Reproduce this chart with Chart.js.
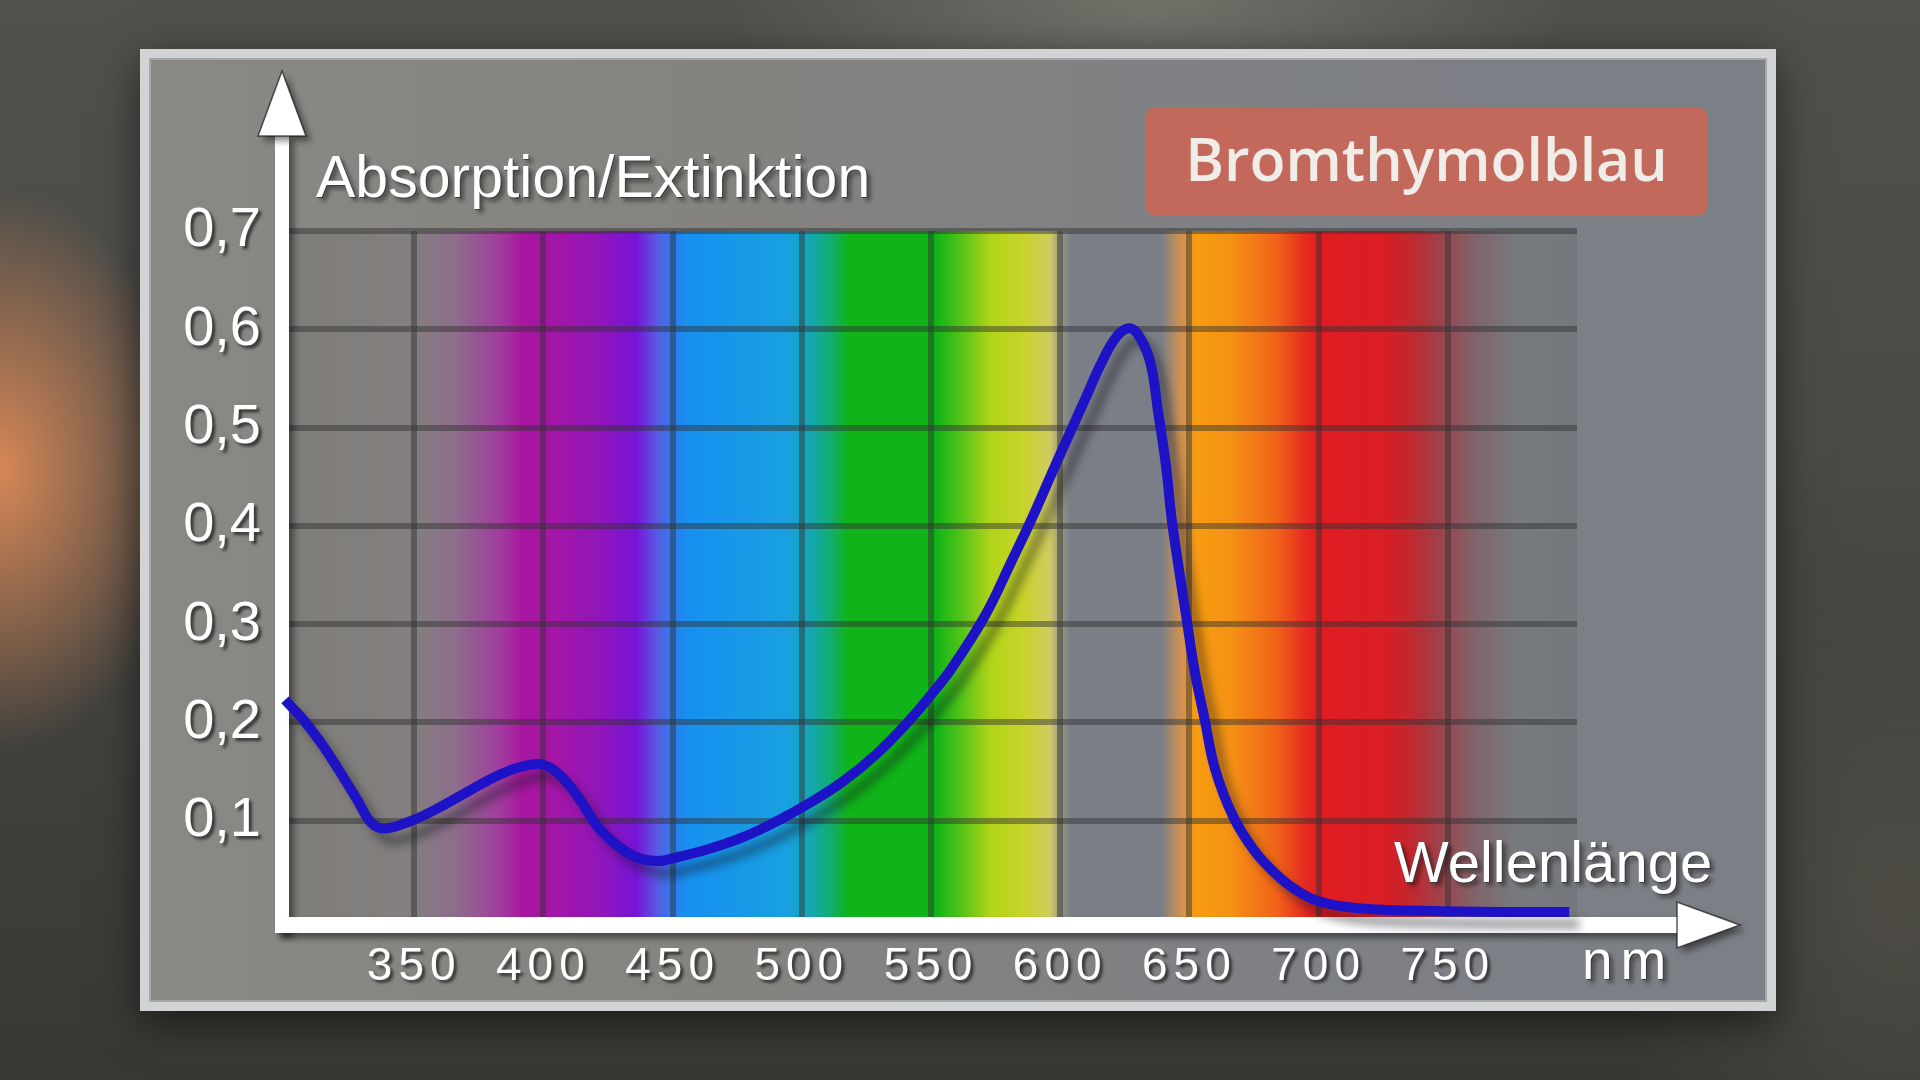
<!DOCTYPE html>
<html lang="de">
<head>
<meta charset="utf-8">
<title>Bromthymolblau – Absorptionsspektrum</title>
<script src="https://cdn.jsdelivr.net/npm/chart.js@4.4.1/dist/chart.umd.min.js"></script>
<style>
  html, body { margin: 0; padding: 0; width: 1920px; height: 1080px; overflow: hidden; }
  body {
    position: relative;
    font-family: 'Liberation Sans', Arial, sans-serif;
    background:
      radial-gradient(ellipse 190px 280px at 0px 470px, rgba(222,138,88,0.95), rgba(222,138,88,0) 100%),
      radial-gradient(ellipse 420px 160px at 1150px 0px, rgba(122,122,114,0.8), rgba(122,122,114,0) 100%),
      radial-gradient(ellipse 300px 400px at 1900px 900px, rgba(80,78,70,0.8), rgba(80,78,70,0) 100%),
      linear-gradient(180deg, #51514c 0%, #4a4a46 40%, #3e3e3a 75%, #383834 100%);
  }
  #panel {
    position: absolute; left: 140px; top: 49px; width: 1636px; height: 962px;
    box-sizing: border-box;
    border: 9px solid #d2d3d4;
    background: linear-gradient(90deg, #8a8884 0%, #85837f 35%, #7e8085 70%, #7b7f86 100%);
    box-shadow: 0 12px 40px rgba(0,0,0,0.55), inset 0 0 0 2px #a5a7a9;
  }
  #chart { position: absolute; left: 0; top: 0; }
  .lbl {
    position: absolute; color: #fff; white-space: nowrap; line-height: 1;
    text-shadow: 1px 1px 0 #3a3a3a, 4px 4px 4px rgba(0,0,0,0.45);
  }
  #yTitle { left: 316px; top: 148px; font-size: 59px; }
  #xTitle { left: 1394px; top: 833px; font-size: 58px; }
  #unit { left: 1582px; top: 933px; font-size: 55px; letter-spacing: 8px; }
  #badge {
    position: absolute; left: 1146px; top: 108px; width: 561px; height: 107px;
    box-sizing: border-box; padding-bottom: 8px;
    background: #c2695b; border-radius: 8px;
    display: flex; align-items: center; justify-content: center;
    font-family: 'Open Sans', sans-serif; font-weight: 600; font-size: 59px; color: #f0ece8;
  }
</style>
</head>
<body>
<div id="panel"></div>
<canvas id="chart" width="1920" height="1080"></canvas>
<div class="lbl" id="yTitle">Absorption/Extinktion</div>
<div class="lbl" id="xTitle">Wellenlänge</div>
<div class="lbl" id="unit">nm</div>
<div id="badge">Bromthymolblau</div>

<script>
// Absorptionsspektrum von Bromthymolblau

const wavelengths = [300, 307, 314, 320, 328, 333, 338, 348, 358, 371, 384, 395, 401, 407, 414, 421, 429, 436, 444, 452,
                     465, 478, 490, 503, 516, 529, 542, 550, 558, 571, 581, 590, 597, 604, 610, 616, 622, 627, 631, 635,
                     638, 641, 643, 646, 649, 652, 656, 660, 667, 675, 683, 691, 700, 715, 747, 797];
const absorbance  = [0.223, 0.203, 0.179, 0.155, 0.121, 0.099, 0.092, 0.099, 0.111, 0.130, 0.148, 0.157, 0.156, 0.145, 0.122, 0.094, 0.074, 0.063, 0.059, 0.063,
                     0.072, 0.084, 0.099, 0.118, 0.140, 0.168, 0.203, 0.228, 0.255, 0.309, 0.363, 0.413, 0.455, 0.496, 0.531, 0.566, 0.593, 0.601, 0.591, 0.565,
                     0.514, 0.460, 0.410, 0.355, 0.304, 0.253, 0.202, 0.152, 0.104, 0.070, 0.047, 0.030, 0.018, 0.011, 0.008, 0.007];

const xTicks = [350, 400, 450, 500, 550, 600, 650, 700, 750];
const yTicks = [0.1, 0.2, 0.3, 0.4, 0.5, 0.6, 0.7];
const xRange = [300, 800];
const yRange = [0, 0.7];

// Farbverlauf des sichtbaren Spektrums hinter dem Raster (Wellenlänge, Farbe)
const spectrumStops = [
  [300, '#7f7d7a'], [350, '#827f7e'], [366, '#8d6d8c'], [384, '#a23a9f'], [392, '#a8169f'],
  [405, '#a316a8'], [422, '#9016ba'], [436, '#7714d8'], [444, '#5a5ae2'], [450, '#2b7ded'],
  [456, '#1690f0'], [494, '#19a0e0'], [503, '#15a6b5'], [511, '#12ad72'], [518, '#10b418'],
  [552, '#10b418'], [562, '#55c418'], [573, '#b2d418'], [586, '#c8d42a'], [596, '#d0cb62'],
  [600, '#9c9a7e'], [604, '#7a7e86'], [639, '#7a7e86'], [646, '#c99058'], [653, '#f89c10'],
  [666, '#f59115'], [684, '#f06219'], [695, '#e62a20'], [701, '#e01c22'], [726, '#d81e24'],
  [736, '#c02830'], [746, '#a04048'], [760, '#80636a'], [776, '#777a7e'], [800, '#74787d']
];

// Hintergrund: Spektrum im Diagrammbereich
const spectrumPlugin = {
  id: 'spectrum',
  beforeDraw(chart) {
    const { ctx, chartArea, scales } = chart;
    const x0 = scales.x.getPixelForValue(xRange[0]);
    const x1 = scales.x.getPixelForValue(xRange[1]);
    const g = ctx.createLinearGradient(x0, 0, x1, 0);
    for (const [nm, col] of spectrumStops) {
      g.addColorStop((nm - xRange[0]) / (xRange[1] - xRange[0]), col);
    }
    ctx.save();
    ctx.fillStyle = g;
    ctx.fillRect(x0, chartArea.top, x1 - x0, chartArea.bottom - chartArea.top);
    ctx.restore();
  }
};

// weiße Achsen mit Pfeilspitzen
const arrowPlugin = {
  id: 'arrows',
  beforeDatasetsDraw(chart) {
    const { ctx, chartArea } = chart;
    const L = chartArea.left, R = chartArea.right, T = chartArea.top, B = chartArea.bottom;
    const heads = [
      [[L - 3, T - 160], [L - 27, T - 95], [L + 21, T - 95]],
      [[R + 163, B + 6], [R + 100, B - 17], [R + 100, B + 29]]
    ];
    ctx.save();
    ctx.shadowColor = 'rgba(0,0,0,0.45)';
    ctx.shadowBlur = 6;
    ctx.shadowOffsetX = 5;
    ctx.shadowOffsetY = 5;
    ctx.fillStyle = '#ffffff';
    ctx.fillRect(L - 10, T - 96, 14, B + 14 - (T - 96));
    ctx.fillRect(L - 10, B - 2, R + 101 - (L - 10), 16);
    for (const h of heads) {
      ctx.beginPath();
      ctx.moveTo(h[0][0], h[0][1]);
      ctx.lineTo(h[1][0], h[1][1]);
      ctx.lineTo(h[2][0], h[2][1]);
      ctx.closePath();
      ctx.fill();
    }
    ctx.shadowColor = 'transparent';
    ctx.strokeStyle = 'rgba(20,20,20,0.7)';
    ctx.lineWidth = 1.5;
    for (const h of heads) {
      ctx.beginPath();
      ctx.moveTo(h[0][0], h[0][1]);
      ctx.lineTo(h[1][0], h[1][1]);
      ctx.lineTo(h[2][0], h[2][1]);
      ctx.closePath();
      ctx.stroke();
    }
    ctx.restore();
  }
};

// Schatten unter der Kurve
const lineShadowPlugin = {
  id: 'lineShadow',
  beforeDatasetDraw(chart) {
    const ctx = chart.ctx;
    ctx.save();
    ctx.shadowColor = 'rgba(20,20,30,0.4)';
    ctx.shadowBlur = 8;
    ctx.shadowOffsetX = 10;
    ctx.shadowOffsetY = 12;
  },
  afterDatasetDraw(chart) {
    chart.ctx.restore();
  }
};

// Beschriftungen mit Schatten, x-Achse gesperrt
const labelStylePlugin = {
  id: 'labelStyle',
  afterLayout(chart) {
    for (const s of Object.values(chart.scales)) {
      if (s._styled) continue;
      const orig = s.drawLabels.bind(s);
      s.drawLabels = (area) => {
        const ctx = chart.ctx;
        ctx.save();
        ctx.letterSpacing = s.axis === 'x' ? '6px' : '0px';
        ctx.shadowColor = 'rgba(0,0,0,0.6)';
        ctx.shadowBlur = 3;
        ctx.shadowOffsetX = 3;
        ctx.shadowOffsetY = 3;
        orig(area);
        ctx.restore();
      };
      s._styled = true;
    }
  }
};

const gridStyle = { color: 'rgba(50,50,50,0.48)', lineWidth: 6, drawTicks: false };

new Chart(document.getElementById('chart'), {
  type: 'line',
  data: {
    datasets: [{
      label: 'Bromthymolblau',
      data: wavelengths.map((x, i) => ({ x, y: absorbance[i] })),
      borderColor: '#1d12c6',
      borderWidth: 10,
      borderCapStyle: 'butt',
      borderJoinStyle: 'round',
      tension: 0.4,
      pointRadius: 0,
      fill: false,
      clip: 20
    }]
  },
  options: {
    responsive: false,
    animation: false,
    events: [],
    layout: { padding: { left: 0, top: 231, right: 343, bottom: 0 } },
    plugins: { legend: { display: false }, tooltip: { enabled: false } },
    scales: {
      x: {
        type: 'linear', min: xRange[0], max: xRange[1],
        afterBuildTicks: s => { s.ticks = xTicks.map(v => ({ value: v })); },
        afterFit: s => { s.height = 161; },
        grid: gridStyle,
        border: { display: false },
        ticks: {
          color: '#ffffff', padding: 21, maxRotation: 0, autoSkip: false, z: 1,
          font: { family: 'Liberation Sans', size: 46 }
        }
      },
      y: {
        type: 'linear', min: yRange[0], max: yRange[1],
        afterBuildTicks: s => { s.ticks = yTicks.map(v => ({ value: v })); },
        afterFit: s => { s.width = 285; },
        grid: gridStyle,
        border: { display: false },
        ticks: {
          color: '#ffffff', padding: 24, z: 1,
          font: { family: 'Liberation Sans', size: 56 },
          callback: v => v.toFixed(1).replace('.', ',')
        }
      }
    }
  },
  plugins: [spectrumPlugin, arrowPlugin, lineShadowPlugin, labelStylePlugin]
});
</script>
</body>
</html>
